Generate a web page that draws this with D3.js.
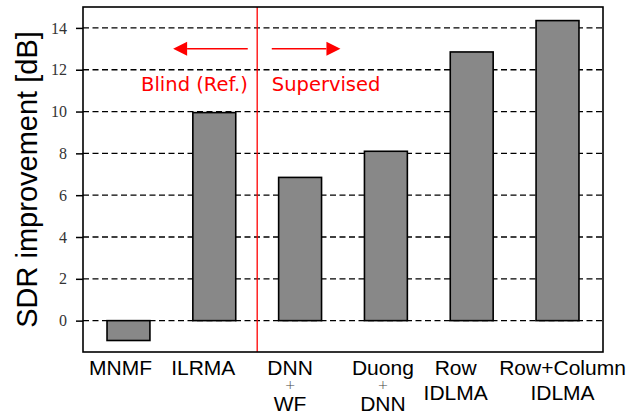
<!DOCTYPE html>
<html>
<head>
<meta charset="utf-8">
<script src="https://cdn.jsdelivr.net/npm/d3@7"></script>
<style>
  html, body { margin: 0; padding: 0; background: #fff; }
  svg { display: block; }
</style>
</head>
<body>
<div id="chart"></div>
<script>
// Daten
const categories = [
    ["MNMF"],
    ["ILRMA"],
    ["DNN", "+", "WF"],
    ["Duong", "+", "DNN"],
    ["Row", "IDLMA"],
    ["Row+Column", "IDLMA"]
];
const sdrValues = [-0.95, 9.95, 6.85, 8.1, 12.85, 14.35];
const yTicks = [0, 2, 4, 6, 8, 10, 12, 14];
const groupLabels = ["Blind (Ref.)", "Supervised"];
const dividerAt = 1.5;
// Pfeile in Datenkoordinaten: [Start, Spitze]
const arrowSpans = [[1.39, 0.52], [1.67, 2.47]];
const arrowLevel = 13;
const groupLabelLevel = 11;

/**
 * Zeichnet das Balkendiagramm
 */
function drawChart() {
    const width = 627;
    const height = 415;
    const margin = { top: 7, right: 24, bottom: 63, left: 83 };

    const svg = d3.select("#chart")
        .append("svg")
        .attr("width", width)
        .attr("height", height);

    const x = d3.scaleLinear()
        .domain([-0.53, categories.length - 0.47])
        .range([margin.left, width - margin.right]);

    const y = d3.scaleLinear()
        .domain([-1.5, 15])
        .range([height - margin.bottom, margin.top]);

    // Gitterlinien
    svg.append("g")
        .selectAll("line")
        .data(yTicks)
        .enter()
        .append("line")
        .attr("x1", margin.left)
        .attr("x2", width - margin.right)
        .attr("y1", d => y(d))
        .attr("y2", d => y(d))
        .attr("stroke", "black")
        .attr("stroke-width", 1.3)
        .attr("stroke-dasharray", "6,3.5");

    // Balken
    const barWidth = x(0.5) - x(0);
    svg.append("g")
        .selectAll("rect")
        .data(sdrValues)
        .enter()
        .append("rect")
        .attr("x", (d, i) => x(i) - barWidth / 2)
        .attr("y", d => y(Math.max(0, d)))
        .attr("width", barWidth)
        .attr("height", d => Math.abs(y(d) - y(0)))
        .attr("fill", "#888888")
        .attr("stroke", "black")
        .attr("stroke-width", 1.6);

    // rote Trennlinie
    svg.append("line")
        .attr("x1", x(dividerAt))
        .attr("x2", x(dividerAt))
        .attr("y1", margin.top)
        .attr("y2", height - margin.bottom)
        .attr("stroke", "red")
        .attr("stroke-width", 1.3);

    // Rahmen
    svg.append("rect")
        .attr("x", margin.left)
        .attr("y", margin.top)
        .attr("width", width - margin.left - margin.right)
        .attr("height", height - margin.top - margin.bottom)
        .attr("fill", "none")
        .attr("stroke", "black")
        .attr("stroke-width", 1.6);

    // y-Achse
    const yAxis = svg.append("g")
        .attr("transform", `translate(${margin.left}, 0)`)
        .call(d3.axisLeft(y).tickValues(yTicks).tickSize(7).tickPadding(9).tickFormat(d3.format("d")));
    yAxis.select(".domain").remove();
    yAxis.selectAll(".tick line").attr("stroke", "black").attr("stroke-width", 1.5);
    yAxis.selectAll(".tick text")
        .attr("fill", "#333")
        .style("font-family", "'Liberation Serif', 'DejaVu Serif', serif")
        .style("font-size", "16px");

    // Kategorien (mehrzeilig, "+" kleiner dazwischen)
    const labelNudge = [-8, -11, -10, -3, -16, 5];
    const baseY = height - margin.bottom + 22.5;
    const tripleOffsets = [0, 14.5, 36];
    categories.forEach((lines, i) => {
        const cx = x(i) + labelNudge[i];
        lines.forEach((line, j) => {
            const ly = baseY + (lines.length === 3 ? tripleOffsets[j] : j * 25.5);
            const isPlus = line === "+";
            svg.append("text")
                .attr("x", cx)
                .attr("y", ly)
                .attr("text-anchor", "middle")
                .style("font-family", isPlus ? "'DejaVu Sans', sans-serif" : "'Liberation Sans', Arial, sans-serif")
                .style("font-size", isPlus ? "13px" : "21px")
                .style("font-weight", isPlus ? "200" : null)
                .attr("fill", isPlus ? "#444" : "black")
                .text(line);
        });
    });

    // y-Beschriftung
    svg.append("text")
        .attr("transform", `translate(37, ${(margin.top + height - margin.bottom) / 2}) rotate(-90)`)
        .attr("text-anchor", "middle")
        .style("font-family", "'Liberation Sans', Arial, sans-serif")
        .style("font-size", "29px")
        .attr("fill", "black")
        .text("SDR improvement [dB]");

    // Pfeile
    arrowSpans.forEach(([from, to]) => {
        const x0 = x(from), x1 = x(to), yy = y(arrowLevel);
        const dir = Math.sign(x1 - x0);
        const headLen = 14, headHalf = 7;
        svg.append("line")
            .attr("x1", x0)
            .attr("x2", x1 - dir * headLen)
            .attr("y1", yy)
            .attr("y2", yy)
            .attr("stroke", "red")
            .attr("stroke-width", 1.6);
        svg.append("path")
            .attr("d", `M${x1},${yy} L${x1 - dir * headLen},${yy - headHalf} L${x1 - dir * headLen},${yy + headHalf} Z`)
            .attr("fill", "red");
    });

    // Gruppenbeschriftungen
    svg.append("text")
        .attr("x", x(arrowSpans[0][0]))
        .attr("y", y(groupLabelLevel))
        .attr("text-anchor", "end")
        .style("font-family", "'DejaVu Sans', sans-serif")
        .style("font-size", "19.5px")
        .attr("fill", "red")
        .text(groupLabels[0]);

    svg.append("text")
        .attr("x", x(arrowSpans[1][0]))
        .attr("y", y(groupLabelLevel))
        .attr("text-anchor", "start")
        .style("font-family", "'DejaVu Sans', sans-serif")
        .style("font-size", "19.5px")
        .attr("fill", "red")
        .text(groupLabels[1]);
}

drawChart();
</script>
</body>
</html>
